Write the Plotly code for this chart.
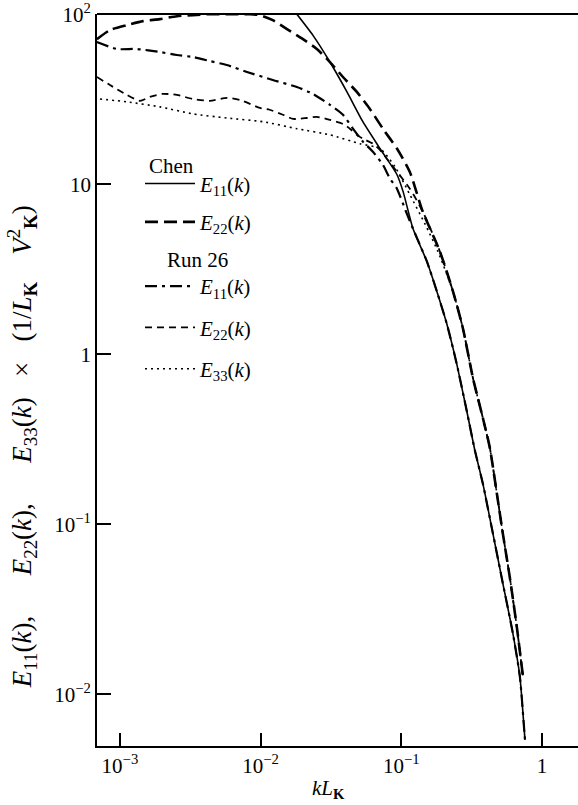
import plotly.graph_objects as go

# Chen: longitudinal and transverse spectra
chen_e11_k = [0.0181, 0.0235, 0.0311, 0.0411, 0.0533, 0.0705, 0.0931, 0.103, 0.121, 0.152,
              0.179, 0.211, 0.248, 0.292, 0.334, 0.380, 0.448, 0.527, 0.621, 0.697, 0.745, 0.757]
chen_e11 = [100, 75.3, 52.3, 34.9, 23.3, 16.2, 11.4, 9.04, 5.48, 3.51,
            2.34, 1.50, 0.873, 0.463, 0.270, 0.173, 0.088, 0.0448, 0.0228, 0.0126, 0.0064, 0.0054]

chen_e22_k = [6.86e-4, 8.49e-4, 1.12e-3, 1.46e-3, 1.92e-3, 2.54e-3, 3.30e-3, 4.36e-3, 5.76e-3,
              8.40e-3, 9.89e-3, 0.0122, 0.0154, 0.0200, 0.0251, 0.0311, 0.0385, 0.0483, 0.0598,
              0.0740, 0.0931, 0.115, 0.142, 0.188, 0.233, 0.274, 0.323, 0.380, 0.426, 0.478,
              0.527, 0.591, 0.663, 0.731]
chen_e22 = [71.3, 80.6, 86.2, 91.0, 93.5, 97.3, 98.7, 100, 100,
            100, 98.7, 92.2, 81.7, 71.3, 62.4, 52.3, 42.7, 34.9, 27.7,
            21.2, 16.2, 11.8, 6.90, 4.02, 2.34, 1.42, 0.723, 0.421, 0.281, 0.151,
            0.088, 0.0485, 0.0247, 0.0129]

# Run 26
run_e11_k = [6.86e-4, 9.52e-4, 1.32e-3, 1.92e-3, 2.54e-3, 3.30e-3, 4.36e-3, 5.76e-3, 8.00e-3,
             0.0122, 0.0181, 0.0235, 0.0311, 0.0385, 0.0453, 0.0533, 0.0628, 0.0740, 0.0830,
             0.0931, 0.108, 0.121, 0.152, 0.179, 0.211, 0.248, 0.292, 0.334, 0.380, 0.448,
             0.527, 0.621, 0.697, 0.745, 0.757]
run_e11 = [68.5, 62.4, 62.4, 59.9, 57.5, 56.0, 53.0, 50.2, 45.7,
           41.0, 37.3, 34.0, 29.3, 25.6, 21.2, 17.8, 15.5, 13.0, 10.8,
           9.41, 6.90, 5.48, 3.51, 2.34, 1.50, 0.873, 0.463, 0.270, 0.173, 0.088,
           0.0448, 0.0228, 0.0126, 0.0064, 0.0054]

run_e22_k = [6.86e-4, 8.49e-4, 1.12e-3, 1.39e-3, 1.63e-3, 2.02e-3, 2.54e-3, 3.30e-3, 4.36e-3,
             5.76e-3, 7.13e-3, 9.89e-3, 0.0116, 0.0144, 0.0170, 0.0213, 0.0251, 0.0311, 0.0385,
             0.0431, 0.0483, 0.0533, 0.0628, 0.0705, 0.0790, 0.115, 0.142, 0.188, 0.233, 0.274,
             0.323, 0.380, 0.426, 0.478, 0.527, 0.591, 0.663, 0.731]
run_e22 = [42.7, 38.3, 33.5, 30.9, 32.6, 34.0, 33.5, 31.7, 30.9,
           32.2, 31.3, 28.1, 27.4, 25.6, 24.2, 24.5, 24.9, 23.9, 22.6,
           21.2, 19.5, 18.5, 17.3, 15.9, 14.1, 9.41, 6.90, 4.02, 2.34, 1.42,
           0.723, 0.421, 0.281, 0.151, 0.088, 0.0485, 0.0247, 0.0129]

run_e33_k = [7.21e-4, 1.12e-3, 1.92e-3, 3.30e-3, 5.76e-3, 0.0104, 0.0181, 0.0311, 0.0508,
             0.0705, 0.0900, 0.115, 0.147, 0.182, 0.233, 0.274, 0.323, 0.380, 0.426, 0.478,
             0.527, 0.591, 0.663, 0.731]
run_e33 = [31.7, 30.5, 28.5, 25.9, 24.5, 23.3, 21.2, 19.5, 17.3,
           16.2, 12.7, 8.68, 5.86, 4.02, 2.34, 1.42, 0.723, 0.421, 0.281, 0.151,
           0.088, 0.0485, 0.0247, 0.0129]

x_tickvals = [1e-3, 1e-2, 1e-1, 1]
x_ticktext = ["10<sup>−3</sup>", "10<sup>−2</sup>", "10<sup>−1</sup>", "1"]
y_tickvals = [1e-2, 1e-1, 1, 10, 100]
y_ticktext = ["10<sup>−2</sup>", "10<sup>−1</sup>", "1", "10", "10<sup>2</sup>"]

SERIF = "Liberation Serif"
W, H = 578, 805
L, R, T, B = 97, 0, 11, 59
PW, PH = W - L - R, H - T - B
NB = "\u00a0"


def px_x(p):
    return (p - L) / PW


def px_y(p):
    return 1 - (p - T) / PH


def lbl(n):
    return "<i>E</i><sub>%s</sub>(<i>k</i>)" % n


fig = go.Figure()

fig.add_trace(go.Scatter(
    x=chen_e11_k, y=chen_e11, mode="lines", name=lbl("11"), legend="legend",
    line=dict(color="black", width=1.6, shape="spline", smoothing=0.6),
    legendgroup="c11",
))
fig.add_trace(go.Scatter(
    x=chen_e22_k, y=chen_e22, mode="lines", name=lbl("22"), legend="legend",
    line=dict(color="black", width=2.6, dash="13px,6px", shape="spline", smoothing=0.6),
    legendgroup="c22",
))
fig.add_trace(go.Scatter(
    x=run_e11_k, y=run_e11, mode="lines", name=lbl("11"), legend="legend2",
    line=dict(color="black", width=2.2, dash="12px,5px,3px,5px", shape="spline", smoothing=0.6),
    legendgroup="r11",
))
fig.add_trace(go.Scatter(
    x=run_e22_k, y=run_e22, mode="lines", name=lbl("22"), legend="legend2",
    line=dict(color="black", width=1.8, dash="7px,5px", shape="spline", smoothing=0.6),
    legendgroup="r22",
))
fig.add_trace(go.Scatter(
    x=run_e33_k, y=run_e33, mode="lines", name=lbl("33"), legend="legend2",
    line=dict(color="black", width=1.6, dash="2px,4px", shape="spline", smoothing=0.6),
    legendgroup="r33",
))

fig.update_xaxes(
    type="log", range=[-3.163, 0.256],
    tickvals=x_tickvals, ticktext=x_ticktext,
    ticks="inside", ticklen=13, tickwidth=1.5, tickcolor="black",
    showline=True, linecolor="black", linewidth=1.8, mirror=False,
    showgrid=False, zeroline=False, ticklabeloverflow="allow",
    tickfont=dict(family=SERIF, size=21, color="black"),
)
fig.update_yaxes(
    type="log", range=[-2.305, 2.001],
    tickvals=y_tickvals, ticktext=y_ticktext,
    ticks="inside", ticklen=14, tickwidth=1.5, tickcolor="black",
    showline=True, linecolor="black", linewidth=1.8, mirror=False,
    showgrid=False, zeroline=False, ticklabeloverflow="allow",
    tickfont=dict(family=SERIF, size=21, color="black"),
)

# top frame line of the plotting area
fig.add_shape(
    type="line", xref="paper", yref="paper", x0=0, x1=1, y0=1, y1=1,
    line=dict(color="black", width=1.8), layer="above",
)

# axis titles
fig.add_annotation(
    xref="paper", yref="paper", x=px_x(328), y=px_y(789), yanchor="middle",
    text="<i>kL</i><sub><b>K</b></sub>", showarrow=False,
    font=dict(family=SERIF, size=21, color="black"),
)
sep = "," + NB * 6
fig.add_annotation(
    xref="paper", yref="paper", x=px_x(22), y=px_y(446), xanchor="center", yanchor="middle",
    text=lbl("11") + sep + lbl("22") + sep + lbl("33") + NB * 3 + "×" + NB * 3
         + "(1/<i>L</i><sub><b>K</b></sub>" + NB * 4
         + "<i>V</i><sup>2</sup><sub><b>K</b></sub>)",
    textangle=-90, showarrow=False,
    font=dict(family=SERIF, size=27, color="black"),
)

# legend headings
fig.add_annotation(
    xref="paper", yref="paper", x=px_x(171), y=px_y(164), xanchor="center", yanchor="middle",
    text="Chen", showarrow=False, font=dict(family=SERIF, size=21, color="black"),
)
fig.add_annotation(
    xref="paper", yref="paper", x=px_x(197), y=px_y(258), xanchor="center", yanchor="middle",
    text="Run 26", showarrow=False, font=dict(family=SERIF, size=21, color="black"),
)

legend_common = dict(
    xanchor="left", yanchor="top", bgcolor="rgba(0,0,0,0)", borderwidth=0,
    font=dict(family=SERIF, size=21, color="black"),
    traceorder="grouped", itemwidth=50,
)

fig.update_layout(
    width=W, height=H,
    margin=dict(l=L, r=R, t=T, b=B),
    paper_bgcolor="white", plot_bgcolor="white",
    font=dict(family=SERIF, color="black"),
    showlegend=True,
    legend=dict(x=px_x(140), y=px_y(161), tracegroupgap=8, **legend_common),
    legend2=dict(x=px_x(140), y=px_y(264), tracegroupgap=11, **legend_common),
)

fig.write_html("out.html", config={"displayModeBar": False})
